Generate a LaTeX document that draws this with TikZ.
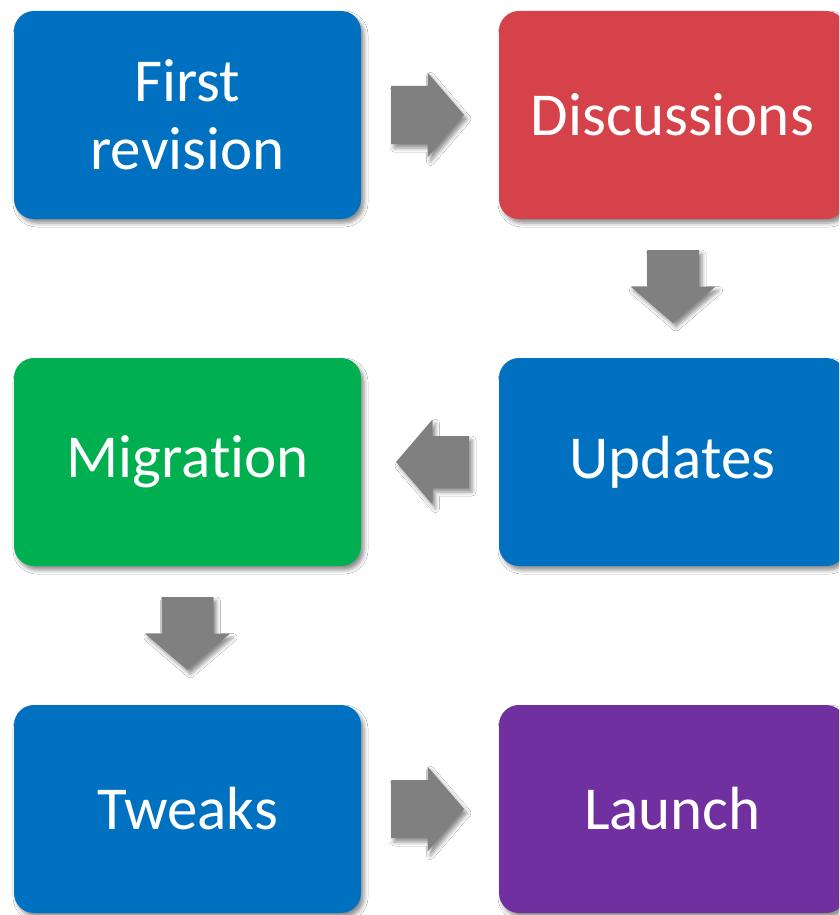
\documentclass[tikz,border=0pt]{standalone}
\usepackage{fontspec}
\setmainfont{Carlito}[Ligatures={NoCommon,NoRare,NoContextual}]
\usetikzlibrary{shadows.blur,calc}
\definecolor{cblue}{HTML}{0070C0}
\definecolor{cred}{HTML}{D6424A}
\definecolor{cgreen}{HTML}{00B050}
\definecolor{cpurple}{HTML}{7030A0}
\definecolor{cgray}{HTML}{808080}
\tikzset{
  shad/.style={blur shadow={shadow xshift=3pt, shadow yshift=-4pt, shadow blur radius=4pt, shadow opacity=45}},
  box/.style={shad, rounded corners=20pt, minimum width=347pt, minimum height=208pt,
    inner sep=0pt, text=white, align=center, font=\fontsize{61}{68}\selectfont},
  arrowfill/.style={fill=cgray, shad},
  pics/rarr/.style={code={\fill[arrowfill] (-36.5,-#1) -- (0,-#1) -- (0,-42.5) -- (36.5,0) -- (0,42.5) -- (0,#1) -- (-36.5,#1) -- cycle;}},
  pics/larr/.style={code={\fill[arrowfill] (36.5,-#1) -- (0,-#1) -- (0,-42.5) -- (-36.5,0) -- (0,42.5) -- (0,#1) -- (36.5,#1) -- cycle;}},
  pics/darr/.style={code={\fill[arrowfill] (-#1,-36.5) -- (-#1,0) -- (-42.5,0) -- (0,36.5) -- (42.5,0) -- (#1,0) -- (#1,-36.5) -- cycle;}},
}
\begin{document}
\begin{tikzpicture}[x=1pt,y=-1pt]
\clip (0,0) rectangle (839,915);
\fill[white] (0,0) rectangle (839,915);
\node[box, fill=cblue] (first) at (187.5,115) {First\\revision};
\node[box, fill=cred] (disc) at (672.5,115) {Discussions};
\node[box, fill=cblue] (upd) at (672.5,462) {Updates};
\node[box, fill=cgreen] (mig) at (187.5,462) {Migration};
\node[box, fill=cblue] (tw) at (187.5,809) {Tweaks};
\node[box, fill=cpurple] (la) at (672.5,809) {Launch};
\pic at ($(first.east)!0.5!(disc.west)+(-2.5,0)$) {rarr=29};
\pic at ($(disc.south)!0.5!(upd.north)+(0.5,-2)$) {darr=26};
\pic at ($(upd.west)!0.5!(mig.east)+(2.5,0)$) {larr=26};
\pic at ($(mig.south)!0.5!(tw.north)+(0,-2)$) {darr=26};
\pic at ($(tw.east)!0.5!(la.west)+(-2.5,0)$) {rarr=29};
\end{tikzpicture}
\end{document}
